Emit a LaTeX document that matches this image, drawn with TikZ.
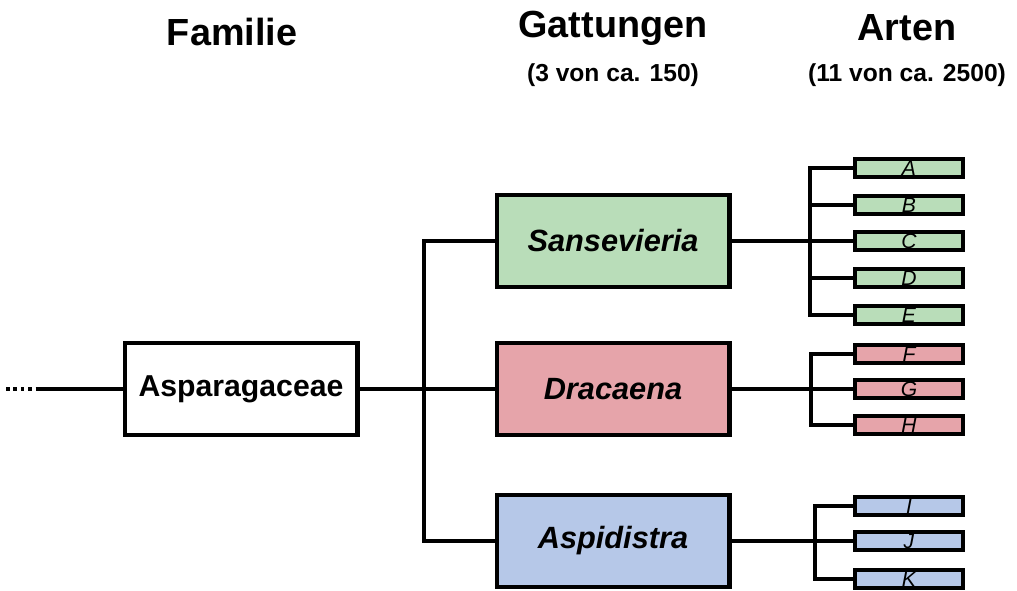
\documentclass[tikz,border=0pt]{standalone}
\usepackage{fontspec}
\setmainfont{Liberation Sans}
\usetikzlibrary{positioning}
\definecolor{SansGreen}{RGB}{185,221,185}
\definecolor{DracRed}{RGB}{230,164,170}
\definecolor{AspiBlue}{RGB}{182,200,232}

\begin{document}
\begin{tikzpicture}[x=0.02cm,y=-0.02cm,
  header/.style={font=\bfseries\fontsize{21.5}{24}\selectfont},
  subheader/.style={font=\bfseries\fontsize{14}{16}\selectfont},
  family/.style={draw,line width=2.3pt,fill=white,minimum width=4.66cm,
                 minimum height=1.84cm,font=\bfseries\fontsize{17.2}{20}\selectfont},
  genus/.style={family,font=\bfseries\itshape\fontsize{17.5}{20}\selectfont},
  species/.style={draw,line width=2pt,minimum width=2.16cm,minimum height=0.36cm,
                  inner sep=0pt,font=\itshape\fontsize{12}{12}\selectfont},
  link/.style={line width=1.9pt},
]
\useasboundingbox (0,0) rectangle (1017,591);

% column titles
\node[header] (hfam) at (232,32) {Familie};
\node[header] (hgen) at (613,28) {Gattungen};
\node[header] (hart) at (907,28) {Arten};
\node[subheader] (sgen) at (613,75) {(3 von ca. 150)};
\node[subheader] (sart) at (907,75) {(11 von ca. 2500)};

% family and genera
\node[family] (fam) at (241,389) {Asparagaceae};
\node[genus,fill=SansGreen] (sans) at (613,241) {Sansevieria};
\node[genus,fill=DracRed] (drac) at (613,389) {Dracaena};
\node[genus,fill=AspiBlue] (aspi) at (613,541) {Aspidistra};

% species
\node[species,fill=SansGreen] (A) at (909,168) {\raisebox{-1.5pt}{A}};
\node[species,fill=SansGreen] (B) at (909,205) {\raisebox{-1.5pt}{B}};
\node[species,fill=SansGreen] (C) at (909,241) {\raisebox{-1.5pt}{C}};
\node[species,fill=SansGreen] (D) at (909,278) {\raisebox{-1.5pt}{D}};
\node[species,fill=SansGreen] (E) at (909,315) {\raisebox{-1.5pt}{E}};
\node[species,fill=DracRed] (F) at (909,354) {\raisebox{-1.5pt}{F}};
\node[species,fill=DracRed] (G) at (909,389) {\raisebox{-1.5pt}{G}};
\node[species,fill=DracRed] (H) at (909,425) {\raisebox{-1.5pt}{H}};
\node[species,fill=AspiBlue] (I) at (909,506) {\raisebox{-1.5pt}{I}};
\node[species,fill=AspiBlue] (J) at (909,541) {\raisebox{-1.5pt}{J}};
\node[species,fill=AspiBlue] (K) at (909,579) {\raisebox{-1.5pt}{K}};

% branch points
\coordinate (dots) at (6,389);
\coordinate (stem) at (38,389);
\coordinate (trunk) at (424,389);
\coordinate (sb) at (810,241);
\coordinate (db) at (811,389);
\coordinate (ab) at (815,541);

% connectors
\draw[link,dash pattern=on 2pt off 2.2pt] (dots) -- (stem);
\draw[link] (stem) -- (fam.west);
\draw[link] (fam.east) -- (drac.west);
\draw[link] (sans.west) -| (trunk) |- (aspi.west);

\draw[link] (sans.east) -- (C.west);
\draw[link] (A.west) -| (sb) |- (E.west);
\foreach \s in {B,D} \draw[link] (\s.west) -- (\s.west -| sb);

\draw[link] (drac.east) -- (G.west);
\draw[link] (F.west) -| (db) |- (H.west);

\draw[link] (aspi.east) -- (J.west);
\draw[link] (I.west) -| (ab) |- (K.west);
\end{tikzpicture}
\end{document}
